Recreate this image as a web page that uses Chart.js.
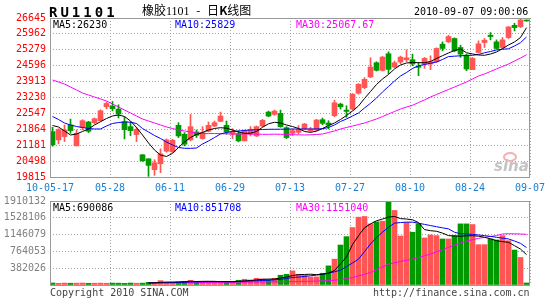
<!DOCTYPE html>
<html>
<head>
<meta charset="utf-8">
<script src="https://cdn.jsdelivr.net/npm/chart.js@4.4.1/dist/chart.umd.min.js"></script>
<style>
body { margin: 0; background: #fff; width: 545px; height: 300px; position: relative; overflow: hidden; }
canvas { position: absolute; left: 0; }
#kline { top: 0; }
#vol { top: 195px; }
.t { position: absolute; white-space: nowrap; font-family: "DejaVu Sans Mono", monospace; font-size: 10px; line-height: 10px; }
.lg { background: #fff; padding-right: 2px; }
</style>
</head>
<body>
<canvas id="kline" width="545" height="195"></canvas>
<canvas id="vol" width="545" height="105"></canvas>

<div class="t" style="left:49px;top:5px;font-weight:bold;font-size:14px;line-height:14px;letter-spacing:3px">RU1101</div>
<div class="t" style="left:142px;top:4px;font-family:'Noto Sans CJK SC';font-size:12px;line-height:12px;word-spacing:4px">橡胶<span style="font-family:'Liberation Serif'">1101</span> - 日<b>K</b>线图</div>
<div class="t" style="left:414px;top:7px">2010-09-07 09:00:06</div>

<div class="t lg" style="left:53px;top:20px;color:#000">MA5:26230</div>
<div class="t lg" style="left:175px;top:20px;color:#0000ff">MA10:25829</div>
<div class="t lg" style="left:296px;top:20px;color:#ff00ff">MA30:25067.67</div>

<div class="t lg" style="left:53px;top:203px;color:#000">MA5:690086</div>
<div class="t lg" style="left:175px;top:203px;color:#0000ff">MA10:851708</div>
<div class="t lg" style="left:296px;top:203px;color:#ff00ff">MA30:1151040</div>

<div style="position:absolute;left:503px;top:152px;width:10px;height:6px;border:2px solid #f5b0b0;border-radius:50%"></div>
<div class="t" style="left:494px;top:159px;font-family:'DejaVu Sans';font-style:italic;font-weight:bold;font-size:15px;line-height:15px;color:#c4c4c4">sina</div>

<div class="t" style="left:50px;top:288px;color:#444">Copyright 2010 SINA.COM</div>
<div class="t" style="left:373px;top:288px;color:#444">http://finance.sina.com.cn</div>

<script>
// 日K 数据
const dateLabels = ['10-05-17', '05-28', '06-11', '06-29', '07-13', '07-27', '08-10', '08-24', '09-07'];
const priceTicks = [19815, 20498, 21181, 21864, 22547, 23230, 23913, 24596, 25279, 25962, 26645];
const volTicks = [0, 382026, 764053, 1146079, 1528106, 1910132];

const opens = [21764, 21408, 21551, 22049, 21152, 21949, 22177, 22149, 22234, 22832,
  22860, 22732, 22191, 21978, 21636, 20768, 20597, 20128, 20384, 20925,
  20896, 22035, 21650, 21409, 21750, 21465, 21778, 22006, 22205, 22035,
  21650, 21679, 21366, 21650, 21579, 22006, 22604, 22504, 22547, 21935,
  21692, 21735, 21878, 21806, 21835, 22276, 22134, 22447, 22945, 22689,
  22731, 23414, 23656, 24112, 24723, 24396, 25108, 24539, 24752, 24850,
  24852, 24567, 24667, 24667, 24767, 25521, 25620, 25763, 25378, 25051,
  24425, 25165, 25592, 25905, 25620, 25379, 25805, 26332, 26275, 26545];
const highs = [21949, 21892, 22049, 22305, 21836, 22277, 22206, 22348, 22703, 23031,
  23059, 22917, 22405, 22163, 21949, 20782, 20597, 20555, 21024, 21451,
  21437, 22149, 21722, 22504, 21835, 21978, 22177, 22220, 22604, 22220,
  21892, 21793, 21835, 21978, 22006, 22291, 22647, 22689, 22689, 21978,
  21878, 22020, 22120, 21949, 22290, 22346, 22233, 23116, 22988, 22874,
  23400, 23827, 24083, 24937, 24765, 24994, 25194, 24795, 25008, 25278,
  25094, 24738, 24951, 25023, 25364, 25620, 25905, 25791, 25478, 25094,
  24951, 25663, 25763, 26019, 25706, 25805, 26275, 26417, 26616, 26559];
const lows = [21138, 21238, 21337, 21693, 21152, 21836, 21722, 22092, 22206, 22746,
  22661, 22348, 21451, 21594, 21337, 20484, 19843, 19886, 20000, 20882,
  20868, 21508, 21152, 21366, 21508, 21437, 21750, 21978, 22191, 21650,
  21465, 21323, 21366, 21579, 21551, 21978, 22405, 22462, 21950, 21465,
  21593, 21664, 21835, 21735, 21806, 22063, 21878, 22404, 22731, 22376,
  22689, 23372, 23613, 24083, 24368, 24368, 24254, 24510, 24681, 24766,
  24596, 24169, 24482, 24425, 24738, 25236, 25592, 25194, 24951, 24382,
  24425, 25137, 25379, 25706, 25308, 25336, 25763, 26090, 26232, 26502];
const closes = [21195, 21850, 21836, 21807, 21693, 22234, 21779, 22319, 22661, 22974,
  22746, 22519, 21850, 21807, 21864, 20512, 20313, 20427, 20811, 21408,
  21394, 21580, 21224, 21978, 21608, 21722, 22035, 22149, 22433, 21750,
  21778, 21366, 21793, 21864, 21978, 22248, 22433, 22647, 21978, 21508,
  21806, 21835, 22091, 21878, 22262, 22120, 22048, 23002, 22831, 22632,
  23372, 23799, 24012, 24539, 24396, 24965, 24439, 24723, 24965, 24937,
  24667, 24525, 24909, 24767, 25336, 25336, 25848, 25236, 25094, 24454,
  24909, 25535, 25692, 25848, 25336, 25706, 26261, 26232, 26560, 26517];

const ma5 = [22027, 21963, 21791, 21619, 21662, 21770, 21877, 22049, 22191, 22328,
  22436, 22479, 22414, 22221, 21942, 21619, 21276, 20975, 20760, 20696,
  20833, 21082, 21319, 21512, 21641, 21727, 21834, 21899, 21933, 21911,
  21834, 21748, 21692, 21697, 21770, 21950, 22100, 22165, 22135, 22049,
  21984, 21899, 21770, 21735, 21783, 21899, 22027, 22135, 22285, 22457,
  22650, 22865, 23187, 23488, 23789, 24025, 24218, 24455, 24627, 24712,
  24734, 24725, 24722, 24777, 24906, 25026, 25142, 25249, 25314, 25151,
  25099, 25056, 25043, 25099, 25185, 25327, 25486, 25615, 25808, 26230];
const ma10 = [22414, 22285, 22135, 22049, 21984, 21942, 21899, 21877, 21877, 22006,
  22113, 22156, 22178, 22170, 22113, 21899, 21748, 21598, 21469, 21319,
  21190, 21082, 21048, 21045, 21061, 21233, 21362, 21512, 21662, 21727,
  21770, 21791, 21813, 21834, 21843, 21856, 21864, 21866, 21868, 21870,
  21877, 21875, 21878, 21876, 21879, 21886, 21942, 22049, 22199, 22307,
  22436, 22564, 22779, 22981, 23209, 23467, 23703, 23939, 24154, 24304,
  24476, 24592, 24648, 24700, 24755, 24863, 24987, 25005, 25022, 25035,
  25043, 25078, 25151, 25206, 25271, 25305, 25322, 25443, 25585, 25829];
const ma30 = [23982, 23896, 23810, 23681, 23553, 23424, 23338, 23252, 23166, 23080,
  22951, 22822, 22693, 22564, 22436, 22307, 22221, 22135, 22049, 21963,
  21899, 21834, 21791, 21748, 21705, 21684, 21680, 21684, 21678, 21670,
  21665, 21660, 21668, 21662, 21655, 21650, 21648, 21655, 21650, 21640,
  21630, 21625, 21620, 21628, 21640, 21662, 21727, 21791, 21877, 21942,
  22006, 22070, 22135, 22221, 22307, 22414, 22521, 22629, 22736, 22822,
  22895, 23015, 23123, 23252, 23359, 23467, 23574, 23681, 23789, 23896,
  24025, 24154, 24240, 24347, 24455, 24562, 24669, 24798, 24927, 25067.67];

const volumes = [46000, 38000, 44000, 40000, 42000, 45000, 39000, 41000, 43000, 40000,
  44000, 42000, 38000, 45000, 41000, 43000, 61000, 58000, 99000, 62000,
  60000, 69000, 84000, 107000, 76000, 78000, 75000, 77000, 74000, 80000,
  73000, 107000, 130000, 115000, 153000, 138000, 122000, 153000, 222000, 244000,
  321000, 244000, 222000, 183000, 185000, 267000, 435000, 588000, 909000, 1100000,
  1306000, 1543000, 1558000, 1390000, 1436000, 1452000, 1910132, 1696000, 1115000, 1421000,
  1199000, 1390000, 1070000, 1138000, 1123000, 1047000, 1047000, 1123000, 1390000, 1390000,
  1375000, 917000, 917000, 1047000, 1024000, 1123000, 1008000, 795000, 626000, 46000];
const volMa5 = [null, null, null, null, null, null, null, null, null, null,
  null, null, null, null, null, null, 47000, 50000, 60000, 66000,
  68000, 70000, 75000, 84000, 79000, 83000, 84000, 83000, 76000, 77000,
  76000, 82000, 93000, 101000, 116000, 129000, 134000, 136000, 158000, 180000,
  215000, 235000, 240000, 245000, 235000, 245000, 270000, 330000, 480000, 640000,
  920000, 1120000, 1300000, 1390000, 1460000, 1500000, 1545000, 1558000, 1510000, 1500000,
  1482000, 1420000, 1260000, 1235000, 1222000, 1180000, 1123000, 1115000, 1108000, 1120000,
  1120000, 1110000, 1085000, 1050000, 1008000, 985000, 970000, 894000, 817000, 690086];
const volMa10 = [null, null, null, null, null, null, null, null, null, null,
  null, null, null, null, null, null, 44000, 46000, 51000, 54000,
  55000, 58000, 62000, 70000, 72000, 75000, 77000, 78000, 80000, 78000,
  76000, 80000, 88000, 92000, 96000, 103000, 108000, 117000, 130000, 148000,
  170000, 180000, 195000, 210000, 225000, 244000, 270000, 300000, 336000, 420000,
  500000, 588000, 760000, 932000, 1080000, 1200000, 1314000, 1406000, 1420000, 1430000,
  1429000, 1405000, 1378000, 1352000, 1325000, 1300000, 1276000, 1200000, 1165000, 1161000,
  1150000, 1138000, 1123000, 1105000, 1085000, 1065000, 1047000, 1000000, 947000, 851708];
const volMa30 = [null, null, null, null, null, null, null, null, null, null,
  null, null, null, null, null, null, 44000, 45000, 47000, 48000,
  49000, 50000, 52000, 54000, 55000, 56000, 57000, 58000, 59000, 60000,
  61000, 62000, 64000, 65000, 67000, 69000, 70000, 72000, 74000, 76000,
  78000, 80000, 82000, 85000, 90000, 95000, 100000, 108000, 125000, 145000,
  168000, 205000, 245000, 283000, 350000, 415000, 474000, 505000, 535000, 560000,
  588000, 625000, 665000, 703000, 755000, 805000, 856000, 905000, 955000, 1000000,
  1030000, 1060000, 1085000, 1105000, 1123000, 1161000, 1165000, 1163000, 1160000, 1151040];

const mono = '"DejaVu Sans Mono", "Liberation Mono", monospace';
const upColor = '#ff5555';
const downColor = '#009900';
const barColors = opens.map((o, i) => closes[i] >= o ? upColor : downColor);
const idx = opens.map((o, i) => i);
// bar i centred on a half pixel so 5px bodies stay sharp
const xMin = -5 / 12, xMax = opens.length - 5 / 12;

// grey frame round the plot
const frame = {
  id: 'frame',
  afterDraw(chart) {
    const { ctx, chartArea: a } = chart;
    ctx.save();
    ctx.strokeStyle = '#999';
    ctx.lineWidth = 1;
    ctx.strokeRect(a.left + 0.5, a.top + 0.5, a.right - a.left - 1, a.bottom - a.top);
    ctx.restore();
  }
};

function xAxis(showLabels, h) {
  return {
    type: 'linear', min: xMin, max: xMax, offset: false,
    grid: { color: '#a0a0a0', drawTicks: false, offset: false },
    border: { display: false, dash: [1, 2] },
    ticks: {
      display: showLabels, autoSkip: false, maxRotation: 0, padding: 5,
      color: '#1b7fd0', font: { family: mono, size: 10 },
      callback: (v, i) => dateLabels[i]
    },
    afterBuildTicks: s => { s.ticks = dateLabels.map((d, k) => ({ value: xMin + 10 * k })); },
    afterFit: s => { s.height = h; s.paddingLeft = 0; s.paddingRight = 0; }
  };
}

function yAxis(ticks, color, hideZero) {
  return {
    min: ticks[0], max: ticks[ticks.length - 1],
    grid: { color: '#a0a0a0', drawTicks: false },
    border: { display: false, dash: [1, 2] },
    ticks: {
      autoSkip: false, padding: 4, color: color, font: { family: mono, size: 10 },
      callback: v => (hideZero && v === 0) ? '' : String(v)
    },
    afterBuildTicks: s => { s.ticks = ticks.map(v => ({ value: v })); },
    afterFit: s => { s.width = 50; s.paddingTop = 0; s.paddingBottom = 0; }
  };
}

function maLine(values, color) {
  return {
    type: 'line', data: idx.map(i => ({ x: i, y: values[i] })),
    borderColor: color, borderWidth: 1, pointRadius: 0, tension: 0, order: 0
  };
}

const base = {
  responsive: false, animation: false, devicePixelRatio: 1, events: [],
  plugins: { legend: { display: false }, tooltip: { enabled: false } }
};

new Chart(document.getElementById('kline'), {
  type: 'bar',
  data: {
    datasets: [
      maLine(ma5, '#000000'),
      maLine(ma10, '#0000ff'),
      maLine(ma30, '#ff00ff'),
      { data: idx.map(i => ({ x: i, y: [opens[i], closes[i]] })), backgroundColor: barColors,
        barThickness: 5, grouped: false, minBarLength: 1, order: 1 },
      { data: idx.map(i => ({ x: i, y: [lows[i], highs[i]] })), backgroundColor: barColors,
        barThickness: 1, grouped: false, order: 2 }
    ]
  },
  options: Object.assign({}, base, {
    layout: { padding: { top: 18, right: 15, left: 0, bottom: 0 } },
    scales: { x: xAxis(true, 18), y: yAxis(priceTicks, '#ff0000', false) }
  }),
  plugins: [frame]
});

new Chart(document.getElementById('vol'), {
  type: 'bar',
  data: {
    datasets: [
      maLine(volMa5, '#000000'),
      maLine(volMa10, '#0000ff'),
      maLine(volMa30, '#ff00ff'),
      { data: idx.map(i => ({ x: i, y: volumes[i] })), backgroundColor: barColors,
        barThickness: 5, grouped: false, order: 1 }
    ]
  },
  options: Object.assign({}, base, {
    layout: { padding: { top: 6, right: 15, left: 0, bottom: 0 } },
    scales: { x: xAxis(false, 15), y: yAxis(volTicks, '#808080', true) }
  }),
  plugins: [frame]
});
</script>
</body>
</html>
